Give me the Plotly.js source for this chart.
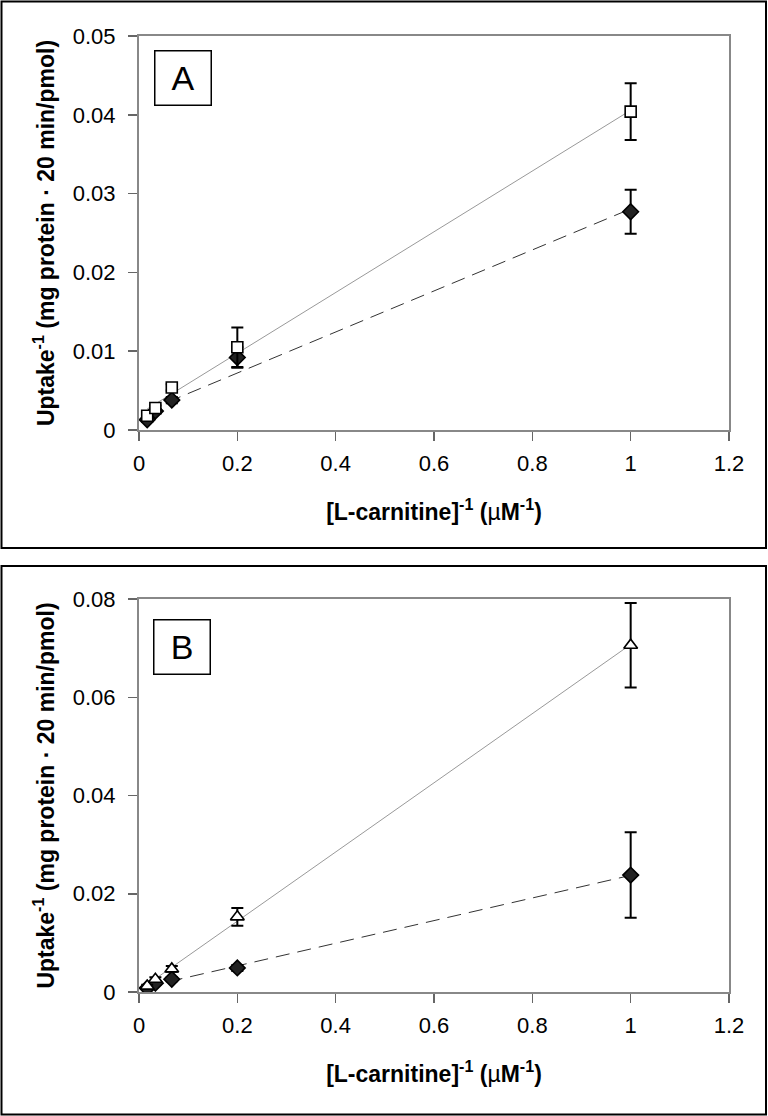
<!DOCTYPE html>
<html>
<head>
<meta charset="utf-8">
<script src="https://cdn.plot.ly/plotly-3.0.1.min.js"></script>
<style>html,body{margin:0;padding:0;background:#fff;}#chart{width:768px;height:1116px;}</style>
</head>
<body>
<div id="chart"></div>
<script>
// ---- data ----
const invCarnitine = [0.0167, 0.0333, 0.0667, 0.2, 1];          // [L-carnitine]^-1 (µM^-1)
const controlA     = [0.0013, 0.0024, 0.0038, 0.0092, 0.0277];  // filled diamonds, panel A
const controlAErr  = [0.0003, 0.0003, 0.0004, 0.0013, 0.0028];
const treatedA     = [0.0018, 0.0028, 0.0054, 0.0105, 0.0404];  // open squares, panel A
const treatedAErr  = [0.0002, 0.0003, 0.0004, 0.0025, 0.0036];
const controlB     = [0.0008, 0.0018, 0.0026, 0.0049, 0.0238];  // filled diamonds, panel B
const controlBErr  = [0.0002, 0.0003, 0.0004, 0.0006, 0.0087];
const treatedB     = [0.0012, 0.0026, 0.0047, 0.0153, 0.0706];  // open triangles, panel B
const treatedBErr  = [0.0003, 0.0004, 0.0006, 0.0018, 0.0086];
const xTicks = [0, 0.2, 0.4, 0.6, 0.8, 1, 1.2];
const yTicksA = [0, 0.01, 0.02, 0.03, 0.04, 0.05];
const yTicksB = [0, 0.02, 0.04, 0.06, 0.08];
const panelLabels = ['A', 'B'];

// ---- helpers ----
function linfit(x, y) {
  const n = x.length;
  const mx = x.reduce((a, b) => a + b, 0) / n;
  const my = y.reduce((a, b) => a + b, 0) / n;
  let sxy = 0, sxx = 0;
  for (let i = 0; i < n; i++) { sxy += (x[i] - mx) * (y[i] - my); sxx += (x[i] - mx) ** 2; }
  const m = sxy / sxx;
  return { m: m, b: my - m * mx };
}
function fitLine(x, y, xa, ya, dash, color) {
  const f = linfit(x, y);
  const xs = [Math.min(...x), Math.max(...x)];
  return { x: xs, y: xs.map(v => f.m * v + f.b), xaxis: xa, yaxis: ya, mode: 'lines',
           line: { color: color, width: 1, dash: dash }, hoverinfo: 'skip', showlegend: false };
}
function pts(x, y, e, xa, ya, symbol, fill, size) {
  return { x: x, y: y, xaxis: xa, yaxis: ya, mode: 'markers', showlegend: false,
           error_y: { type: 'data', array: e, visible: true, color: '#000', thickness: 2, width: 6 },
           marker: { symbol: symbol, size: size, color: fill, line: { color: '#000', width: 1.6 } } };
}

const W = 768, H = 1116;
const px = v => v / W, py = v => 1 - v / H;
const dashStyle = '14px,8px';

const traces = [
  fitLine(invCarnitine, controlA, 'x', 'y', dashStyle, '#333'),
  fitLine(invCarnitine, treatedA, 'x', 'y', 'solid', '#999'),
  pts(invCarnitine, controlA, controlAErr, 'x', 'y', 'diamond', '#222', 12),
  pts(invCarnitine, treatedA, treatedAErr, 'x', 'y', 'square', '#fff', 11),
  fitLine(invCarnitine, controlB, 'x2', 'y2', dashStyle, '#333'),
  fitLine(invCarnitine, treatedB, 'x2', 'y2', 'solid', '#999'),
  pts(invCarnitine, controlB, controlBErr, 'x2', 'y2', 'diamond', '#222', 12),
  pts(invCarnitine, treatedB, treatedBErr, 'x2', 'y2', 'triangle-up', '#fff', 12)
];

const font = 'Liberation Sans, Arial, sans-serif';
const xTitle = '<b>[L-carnitine]<sup>-1</sup> (</b>µ<b>M<sup>-1</sup>)</b>';
const yTitle = '<b>Uptake<sup>-1</sup> (mg protein · 20 min/pmol)</b>';

function xAxis(anchor) {
  return { domain: [px(139), px(729)], anchor: anchor, range: [0, 1.2], tickvals: xTicks,
           ticks: 'outside', ticklen: 9, tickcolor: '#666', tickwidth: 1.5, ticklabelstandoff: 4,
           showline: true, linecolor: '#888', linewidth: 2, mirror: true, showgrid: false, zeroline: false,
           tickfont: { size: 22, color: '#000', family: font },
           title: { text: xTitle, font: { size: 23, color: '#000', family: font }, standoff: 28 } };
}
function yAxis(anchor, dom, range, tv) {
  return { domain: dom, anchor: anchor, range: range, tickvals: tv,
           ticks: 'outside', ticklen: 9, tickcolor: '#666', tickwidth: 1.5, ticklabelstandoff: 8,
           showline: true, linecolor: '#888', linewidth: 2, mirror: true, showgrid: false, zeroline: false,
           tickfont: { size: 22, color: '#000', family: font },
           title: { text: yTitle, font: { size: 23, color: '#000', family: font }, standoff: 12 } };
}

const layout = {
  width: W, height: H, margin: { l: 0, r: 0, t: 0, b: 0 },
  paper_bgcolor: '#fff', plot_bgcolor: '#fff', showlegend: false,
  font: { family: font, color: '#000' },
  xaxis: xAxis('y'),
  yaxis: yAxis('x', [py(430), py(36)], [0, 0.05], yTicksA),
  xaxis2: xAxis('y2'),
  yaxis2: yAxis('x2', [py(992), py(599)], [0, 0.08], yTicksB),
  shapes: [
    { type: 'rect', xref: 'paper', yref: 'paper', x0: px(1.5), x1: px(766), y0: py(548), y1: py(1.5), line: { color: '#000', width: 2 } },
    { type: 'rect', xref: 'paper', yref: 'paper', x0: px(1.5), x1: px(766), y0: py(1114.5), y1: py(566), line: { color: '#000', width: 2 } }
  ],
  annotations: [
    { text: panelLabels[0], xref: 'paper', yref: 'paper', x: px(183), y: py(78), xanchor: 'center', yanchor: 'middle',
      showarrow: false, width: 53, height: 51, bordercolor: '#000', borderwidth: 1.5, font: { size: 34, family: font, color: '#000' } },
    { text: panelLabels[1], xref: 'paper', yref: 'paper', x: px(182), y: py(647), xanchor: 'center', yanchor: 'middle',
      showarrow: false, width: 53, height: 51, bordercolor: '#000', borderwidth: 1.5, font: { size: 34, family: font, color: '#000' } }
  ]
};

Plotly.newPlot('chart', traces, layout, { staticPlot: true, displayModeBar: false });
</script>
</body>
</html>
